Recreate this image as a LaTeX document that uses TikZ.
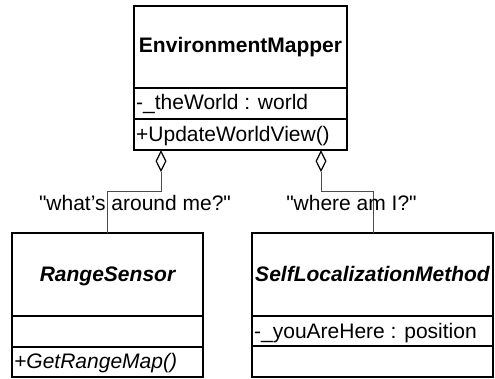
\documentclass[tikz,border=0pt]{standalone}
\usepackage{fontspec}
\setmainfont{Liberation Sans}[Ligatures=TeXOff]
\usetikzlibrary{shapes.geometric}
\tikzset{
  every node/.style={font=\fontsize{21pt}{25pt}\selectfont, inner sep=0pt},
  umlbox/.style={draw=black, line width=1.4pt, rectangle, anchor=north west, outer sep=0pt},
  divider/.style={draw=black, line width=1.4pt},
  conn/.style={draw=black!70, line width=1pt},
  aggr/.style={diamond, draw=black, line width=1.2pt, fill=white, minimum width=10pt, minimum height=20pt, inner sep=0pt, anchor=north},
  txt/.style={anchor=base west},
  title/.style={anchor=base, font=\fontsize{21pt}{25pt}\selectfont\bfseries},
  ititle/.style={anchor=base, font=\fontsize{21pt}{25pt}\selectfont\bfseries\itshape},
}
\begin{document}
\begin{tikzpicture}[x=1pt,y=-1pt]
\useasboundingbox (0,0) rectangle (495,379);
% top class
\node[umlbox, minimum width=213pt, minimum height=144pt] (em) at (134,6) {};
\draw[divider] (134,88) -- (347,88);
\draw[divider] (134,119) -- (347,119);
\node[title] (emt) at (240.5,53) {EnvironmentMapper};
\node[txt] (ema) at (136,110) {-\_theWorld : world};
\node[txt] (emo) at (136,142) {+UpdateWorldView()};
% left class
\node[umlbox, minimum width=191pt, minimum height=144pt] (rs) at (12,233) {};
\draw[divider] (12,316) -- (203,316);
\draw[divider] (12,347) -- (203,347);
\node[ititle] (rst) at (107.5,282) {RangeSensor};
\node[txt] (rso) at (14,368) {\itshape +GetRangeMap()};
% right class
\node[umlbox, minimum width=241pt, minimum height=144pt] (sl) at (252,233) {};
\draw[divider] (252,316) -- (493,316);
\draw[divider] (252,346) -- (493,346);
\node[ititle] (slt) at (372.5,282) {SelfLocalizationMethod};
\node[txt] (sla) at (254,338) {-\_youAreHere : position};
% aggregations
\node[aggr] (d1) at (161,150.5) {};
\node[aggr] (d2) at (321,150.5) {};
\coordinate (c1) at (107,192);
\coordinate (c2) at (373,192);
\draw[conn] (d1.south) |- (c1) -- (c1 |- rs.north);
\draw[conn] (d2.south) |- (c2) -- (c2 |- sl.north);
\node[anchor=base] (l1) at (135,211) {"what’s around me?"};
\node[anchor=base] (l2) at (351.5,211) {"where am I?"};
\end{tikzpicture}
\end{document}
